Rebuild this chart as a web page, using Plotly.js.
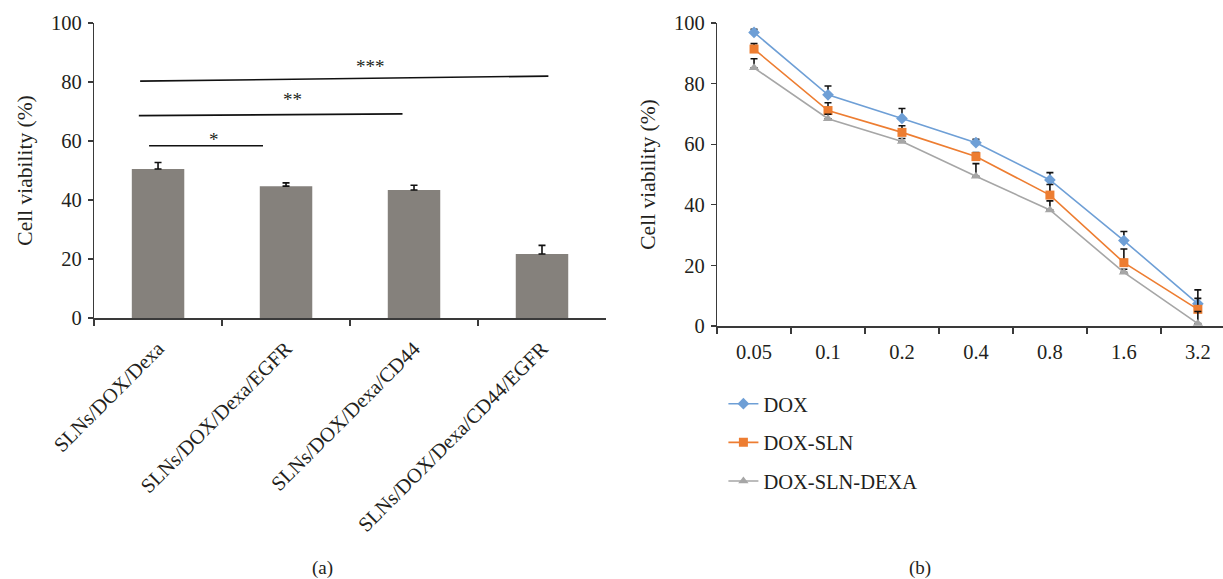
<!DOCTYPE html>
<html>
<head>
<meta charset="utf-8">
<script src="https://cdn.plot.ly/plotly-3.0.1.min.js"></script>
<style>html,body{margin:0;padding:0;background:#fff}#chart{width:1223px;height:579px}</style>
</head>
<body>
<div id="chart"></div>
<script>
// ---- Panel (a) data ----
const barCategories = ['SLNs/DOX/Dexa', 'SLNs/DOX/Dexa/EGFR', 'SLNs/DOX/Dexa/CD44', 'SLNs/DOX/Dexa/CD44/EGFR'];
const barValues = [50.5, 44.7, 43.4, 21.7];
const barErrors = [2.2, 1.1, 1.6, 2.9];

// significance brackets (category units / % viability)
const sigLabels = ['*', '**', '***'];
const sigFrom = [-0.07, -0.15, -0.14];
const sigTo = [0.82, 1.91, 3.05];
const sigLevelStart = [58.4, 68.6, 80.3];
const sigLevelEnd = [58.4, 69.2, 82.0];
const sigLabelX = [0.44, 1.05, 1.66];
const sigLabelY = [60.6, 74.2, 85.4];

// ---- Panel (b) data ----
const doses = ['0.05', '0.1', '0.2', '0.4', '0.8', '1.6', '3.2'];
const seriesNames = ['DOX', 'DOX-SLN', 'DOX-SLN-DEXA'];
const doxValues = [96.9, 76.3, 68.5, 60.5, 48.2, 28.2, 7.3];
const doxErrors = [1.0, 2.9, 3.3, 1.1, 2.4, 3.0, 4.6];
const doxSlnValues = [91.4, 71.1, 63.9, 55.9, 43.2, 20.9, 5.5];
const doxSlnErrors = [1.8, 2.6, 2.2, 1.3, 3.5, 4.5, 3.6];
const doxSlnDexaValues = [85.2, 68.4, 60.9, 49.4, 38.3, 17.7, 0.8];
const doxSlnDexaErrors = [3.0, 1.5, 1.0, 4.2, 3.0, 1.0, 4.0];

const FONT = 'Liberation Serif, Times New Roman, serif';
const TXT = '#231f20';
const AX = '#3a3a3a';

const errStyle = (arr) => ({type: 'data', array: arr, arrayminus: arr.map(() => 0), symmetric: false,
  visible: true, color: '#111', thickness: 1.6, width: 3.5});

const traces = [
  {type: 'bar', x: barCategories, y: barValues, xaxis: 'x', yaxis: 'y', width: 0.41,
   marker: {color: '#85817c', line: {width: 0}}, error_y: errStyle(barErrors), showlegend: false, hoverinfo: 'x+y'},
  {type: 'scatter', mode: 'lines+markers', name: seriesNames[0], legendgroup: 'g1', x: doses, y: doxValues,
   xaxis: 'x2', yaxis: 'y2', line: {color: '#6e9fd6', width: 1.6},
   marker: {symbol: 'diamond', size: 9, color: '#6e9fd6'}, error_y: errStyle(doxErrors)},
  {type: 'scatter', mode: 'lines+markers', name: seriesNames[1], legendgroup: 'g2', x: doses, y: doxSlnValues,
   xaxis: 'x2', yaxis: 'y2', line: {color: '#ed7d31', width: 1.6},
   marker: {symbol: 'square', size: 9, color: '#ed7d31'}, error_y: errStyle(doxSlnErrors)},
  {type: 'scatter', mode: 'lines+markers', name: seriesNames[2], legendgroup: 'g3', x: doses, y: doxSlnDexaValues,
   xaxis: 'x2', yaxis: 'y2', line: {color: '#a6a6a6', width: 1.6},
   marker: {symbol: 'triangle-up', size: 9, color: '#a6a6a6'}, error_y: errStyle(doxSlnDexaErrors)}
];

const shapes = sigLabels.map((s, i) => ({type: 'line', xref: 'x', yref: 'y',
  x0: sigFrom[i], x1: sigTo[i], y0: sigLevelStart[i], y1: sigLevelEnd[i],
  line: {color: '#111', width: 1.6}}));

const annotations = sigLabels.map((s, i) => ({xref: 'x', yref: 'y', x: sigLabelX[i], y: sigLabelY[i],
  text: s, showarrow: false, font: {family: FONT, size: 19, color: TXT}}));
annotations.push({xref: 'paper', yref: 'paper', x: 0.2535, y: 0.019, yanchor: 'middle', text: '(a)', showarrow: false,
  font: {family: FONT, size: 19, color: TXT}});
annotations.push({xref: 'paper', yref: 'paper', x: 0.763, y: 0.019, yanchor: 'middle', text: '(b)', showarrow: false,
  font: {family: FONT, size: 19, color: TXT}});

const yCommon = {range: [0, 100], dtick: 20, ticks: 'outside', ticklen: 5, tickwidth: 1.3, tickcolor: AX,
  showline: true, linecolor: AX, linewidth: 1.3, showgrid: false, zeroline: false,
  tickfont: {family: FONT, size: 20.5, color: TXT}, ticklabelstandoff: 2,
  title: {text: 'Cell viability (%)', font: {family: FONT, size: 21.5, color: TXT}, standoff: 12}};
const xCommon = {type: 'category', tickson: 'boundaries', ticks: 'outside', ticklen: 6, tickwidth: 1.3, tickcolor: AX,
  showline: true, linecolor: AX, linewidth: 1.6, showgrid: false, zeroline: false,
  tickfont: {family: FONT, size: 20.5, color: TXT}};

const layout = {
  width: 1223, height: 579, margin: {l: 0, r: 0, t: 0, b: 0},
  paper_bgcolor: '#fff', plot_bgcolor: '#fff', font: {family: FONT, color: TXT},
  xaxis: Object.assign({}, xCommon, {domain: [0.0769, 0.4955], range: [-0.5, 3.5], anchor: 'y',
    tickangle: -45, ticklabelstandoff: 9}),
  yaxis: Object.assign({}, yCommon, {domain: [0.4508, 0.9603], anchor: 'x'}),
  xaxis2: Object.assign({}, xCommon, {domain: [0.5863, 1], range: [-0.5, 6.34], anchor: 'y2', ticklabelstandoff: 7}),
  yaxis2: Object.assign({}, yCommon, {domain: [0.4370, 0.9603], anchor: 'x2'}),
  bargap: 0.59,
  showlegend: true,
  legend: {x: 0.5915, y: 0.337, xanchor: 'left', yanchor: 'top', traceorder: 'grouped', tracegroupgap: 9,
    font: {family: FONT, size: 20.5, color: TXT}, bgcolor: 'rgba(0,0,0,0)', borderwidth: 0},
  shapes: shapes, annotations: annotations
};

Plotly.newPlot('chart', traces, layout, {staticPlot: true, displayModeBar: false});
</script>
</body>
</html>
